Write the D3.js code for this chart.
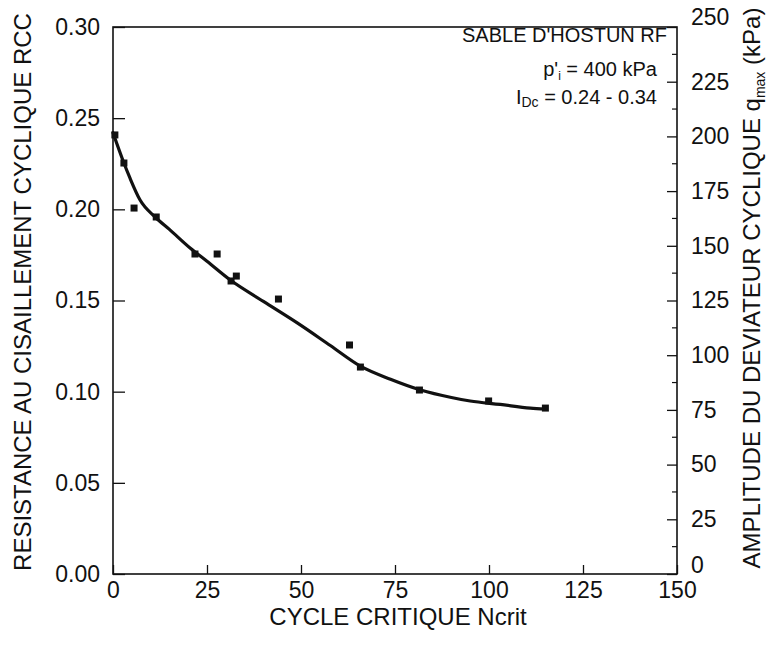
<!DOCTYPE html>
<html>
<head>
<meta charset="utf-8">
<script src="https://cdn.jsdelivr.net/npm/d3@7/dist/d3.min.js"></script>
<style>
  html, body { margin: 0; padding: 0; background: #fff; }
  svg { display: block; }
  text { font-family: "Liberation Sans", Arial, Helvetica, sans-serif; fill: #111; }
</style>
</head>
<body>
<svg id="chart" width="767" height="645"></svg>
<script>
// ---------- data ----------
const curveN   = [0, 2.9, 4.5, 7.2, 11.2, 15, 20.5, 25, 31.2, 40, 49, 57.8, 65.8, 73.8, 81.8, 90, 95, 103, 111, 115];
const curveRCC = [0.242, 0.2254, 0.2172, 0.2051, 0.1958, 0.189, 0.1788, 0.1715, 0.1612, 0.1495, 0.1377, 0.1253, 0.1140, 0.1068, 0.1009, 0.0968, 0.0949, 0.093, 0.091, 0.0905];

const pointN   = [0.5, 2.9, 5.6, 11.5, 21.8, 27.7, 31.4, 32.8, 44, 62.9, 65.8, 81.5, 99.9, 115];
const pointRCC = [0.2408, 0.2254, 0.2007, 0.1958, 0.1755, 0.1755, 0.1607, 0.1634, 0.1508, 0.1256, 0.1135, 0.1009, 0.0949, 0.091];

const xTicks  = [0, 25, 50, 75, 100, 125, 150];
const yTicks  = [0, 0.05, 0.10, 0.15, 0.20, 0.25, 0.30];
const qTicks  = [0, 25, 50, 75, 100, 125, 150, 175, 200, 225, 250];
const qMinor  = [12.5, 37.5, 62.5, 87.5, 112.5, 137.5, 162.5, 187.5, 212.5, 237.5];

const xTitle = "CYCLE CRITIQUE Ncrit";
const yTitle = "RESISTANCE AU CISAILLEMENT CYCLIQUE RCC";
const qTitleMain = "AMPLITUDE DU DEVIATEUR CYCLIQUE q";
const qTitleSub = "max";
const qTitleEnd = " (kPa)";

// ---------- layout ----------
const L = 113, R = 677, T = 27, B = 574;
const svg = d3.select("#chart");

const x  = d3.scaleLinear().domain([0, 150]).range([L, R]);
const y  = d3.scaleLinear().domain([0, 0.30]).range([B, T]);
const yq = d3.scaleLinear().domain([0, 250]).range([B, T]);

// frame
svg.append("rect")
  .attr("x", L).attr("y", T).attr("width", R - L).attr("height", B - T)
  .attr("fill", "none").attr("stroke", "#111").attr("stroke-width", 1.6);

// left axis
const gL = svg.append("g").attr("transform", `translate(${L},0)`)
  .call(d3.axisLeft(y).tickValues(yTicks).tickFormat(d3.format(".2f"))
        .tickSize(-12).tickPadding(13));
gL.select(".domain").remove();
gL.selectAll("line").attr("stroke", "#111").attr("stroke-width", 1.3);
gL.selectAll("text").style("font-size", "23px");

// bottom axis
const gB = svg.append("g").attr("transform", `translate(0,${B})`)
  .call(d3.axisBottom(x).tickValues(xTicks).tickFormat(d3.format("d"))
        .tickSize(-9).tickPadding(8));
gB.select(".domain").remove();
gB.selectAll("line").attr("stroke", "#111").attr("stroke-width", 1.3);
gB.selectAll("text").style("font-size", "23px");

// right axis (kPa)
const gR = svg.append("g").attr("transform", `translate(${R},0)`)
  .call(d3.axisRight(yq).tickValues(qTicks).tickFormat(d3.format("d"))
        .tickSize(-10).tickPadding(14));
gR.select(".domain").remove();
gR.selectAll("line").attr("stroke", "#111").attr("stroke-width", 1.3);
gR.selectAll("text").style("font-size", "23px");
gR.selectAll(".tick").filter(d => d === 250).select("text").attr("dy", "-0.1em");
gR.selectAll(".tick").filter(d => d === 0).select("text").attr("dy", "-0.05em");

svg.append("g").selectAll("line").data(qMinor).join("line")
  .attr("x1", R - 5).attr("x2", R)
  .attr("y1", d => yq(d)).attr("y2", d => yq(d))
  .attr("stroke", "#111").attr("stroke-width", 1.2);

// fitted curve
const lineData = curveN.map((n, i) => [n, curveRCC[i]]);
svg.append("path")
  .datum(lineData)
  .attr("fill", "none").attr("stroke", "#111").attr("stroke-width", 3.2)
  .attr("stroke-linejoin", "round").attr("stroke-linecap", "round")
  .attr("d", d3.line().x(d => x(d[0])).y(d => y(d[1])).curve(d3.curveMonotoneX));

// data points
const pts = pointN.map((n, i) => [n, pointRCC[i]]);
svg.append("g").selectAll("rect").data(pts).join("rect")
  .attr("x", d => x(d[0]) - 3.5).attr("y", d => y(d[1]) - 3.5)
  .attr("width", 7).attr("height", 7).attr("fill", "#111");

// annotation
const ann = svg.append("g").attr("text-anchor", "end").style("font-size", "20px");
ann.append("text").attr("x", 667).attr("y", 42).text("SABLE D'HOSTUN RF");
const t2 = ann.append("text").attr("x", 657).attr("y", 76);
t2.append("tspan").text("p'");
t2.append("tspan").attr("dy", 4).style("font-size", "12px").text("i");
t2.append("tspan").attr("dy", -4).text(" = 400 kPa");
const t3 = ann.append("text").attr("x", 657).attr("y", 104);
t3.append("tspan").text("I");
t3.append("tspan").attr("dy", 3).style("font-size", "14px").text("Dc");
t3.append("tspan").attr("dy", -3).text(" = 0.24 - 0.34");

// axis titles
svg.append("text").attr("x", 398).attr("y", 625).attr("text-anchor", "middle")
  .style("font-size", "24px").text(xTitle);

svg.append("text").attr("transform", "translate(31,292) rotate(-90)")
  .attr("text-anchor", "middle").style("font-size", "24px").text(yTitle);

const tq = svg.append("text").attr("transform", "translate(760,288) rotate(-90)")
  .attr("text-anchor", "middle").style("font-size", "24px");
tq.append("tspan").text(qTitleMain);
tq.append("tspan").attr("dy", 5).style("font-size", "14px").text(qTitleSub);
tq.append("tspan").attr("dy", -5).text(qTitleEnd);
</script>
</body>
</html>
